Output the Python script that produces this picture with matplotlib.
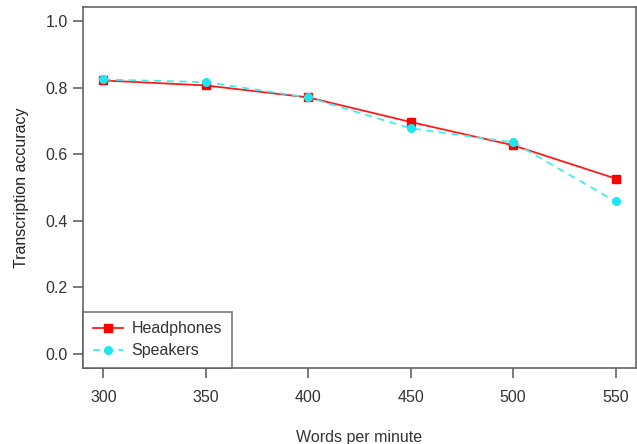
import matplotlib
matplotlib.use("Agg")
import matplotlib.pyplot as plt

# data
wpm = [300, 350, 400, 450, 500, 550]
headphones = [0.822, 0.807, 0.771, 0.697, 0.627, 0.527]
speakers = [0.825, 0.817, 0.771, 0.678, 0.636, 0.458]
yticks = [0.0, 0.2, 0.4, 0.6, 0.8, 1.0]

plt.rcParams['font.family'] = ['Liberation Sans', 'DejaVu Sans']

fig = plt.figure(figsize=(6.37, 4.44), dpi=100)
ax = fig.add_axes([83 / 637, 1 - 368 / 444, (636 - 83) / 637, (368 - 7) / 444])

ax.plot(wpm, headphones, color='#ff1a1a', lw=1.3, marker='s', ms=5.5,
        mfc='#ff0000', mec='#ff0000', label='Headphones')
ax.plot(wpm, speakers, color='#40eef2', lw=1.3, ls=(0, (4, 3)), marker='o', ms=5.5,
        mfc='#1ee6f0', mec='#1ee6f0', label='Speakers')

ax.set_xlim(290, 560)
ax.set_ylim(-0.043, 1.043)
ax.set_xticks(wpm)
ax.set_yticks(yticks)
ax.set_yticklabels([f'{v:.1f}' for v in yticks])

for s in ax.spines.values():
    s.set_color('#666666')
    s.set_linewidth(1.2)
ax.tick_params(direction='out', length=7, width=1.1, color='#555555',
               labelsize=11.5, labelcolor='#333333')
ax.tick_params(axis='x', pad=9)
ax.tick_params(axis='y', pad=4)

ax.set_xlabel('Words per minute', fontsize=11.5, color='#333333', labelpad=18)
ax.set_ylabel('Transcription accuracy', fontsize=11.5, color='#222222', labelpad=12)

leg = ax.legend(loc='lower left', bbox_to_anchor=(0, 0), borderaxespad=0,
                fontsize=11.5, frameon=True, fancybox=False, handlelength=1.9,
                handletextpad=0.55, labelspacing=0.45, borderpad=0.6)
leg.get_frame().set_edgecolor('#555555')
leg.get_frame().set_linewidth(1.2)
for t in leg.get_texts():
    t.set_color('#333333')

fig.savefig('out.png', dpi=100)
